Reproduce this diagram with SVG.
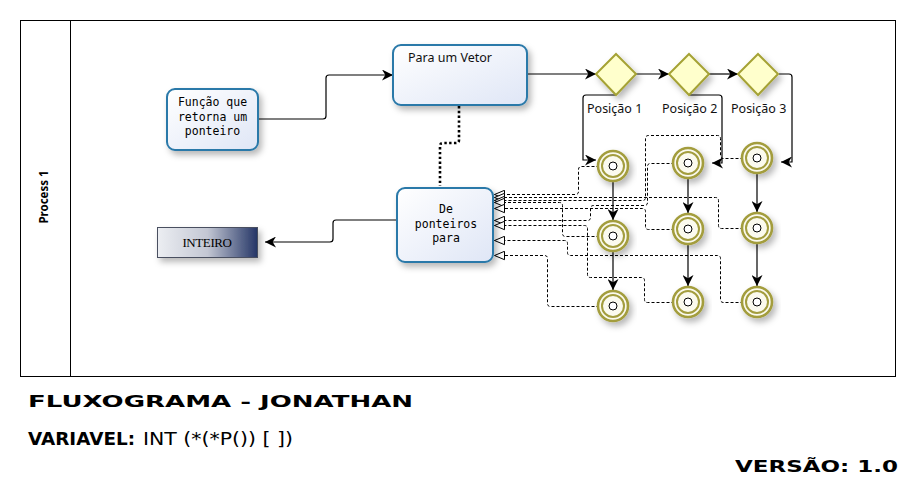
<svg xmlns="http://www.w3.org/2000/svg" width="915" height="482" viewBox="0 0 915 482">
<defs>
<linearGradient id="gNode" x1="0" y1="0" x2="1" y2="1">
<stop offset="0" stop-color="#ffffff"/>
<stop offset="1" stop-color="#dfe6f6"/>
</linearGradient>
<linearGradient id="gInt" x1="0" y1="0" x2="1" y2="0">
<stop offset="0" stop-color="#eceef2"/>
<stop offset="0.5" stop-color="#c3c7d3"/>
<stop offset="1" stop-color="#243566"/>
</linearGradient>
<filter id="sh" x="-20%" y="-20%" width="150%" height="160%">
<feDropShadow dx="3" dy="4" stdDeviation="3" flood-color="#000" flood-opacity="0.28"/>
</filter>
<marker id="arr" viewBox="0 0 10 10" refX="10" refY="5" markerWidth="11" markerHeight="11" markerUnits="userSpaceOnUse" orient="auto">
<path d="M0,0 L10,5 L0,10 L3,5 z" fill="#000"/>
</marker>
<marker id="open" viewBox="0 0 12 10" refX="11" refY="5" markerWidth="12" markerHeight="10" markerUnits="userSpaceOnUse" orient="auto">
<path d="M1,0.8 L11,5 L1,9.2 z" fill="#fff" stroke="#000" stroke-width="1"/>
</marker>
</defs>
<style>
.node{fill:url(#gNode);stroke:#2a79a9;stroke-width:2;filter:url(#sh)}
.mono{font-family:"DejaVu Sans Mono","Liberation Mono",monospace;font-size:11.5px;fill:#000;text-anchor:middle}
.sans{font-family:"Noto Sans","DejaVu Sans",sans-serif;font-size:12.5px;fill:#111}
.dia{fill:#ffffcc;stroke:#a5a234;stroke-width:2;filter:url(#sh)}
.ring{fill:#fbfaee;stroke:#a39d3e;stroke-width:2.6;filter:url(#sh)}
.ring2{fill:none;stroke:#a39d3e;stroke-width:2}
.dot{fill:#fff;stroke:#000;stroke-width:1}
.solid{fill:none;stroke:#000;stroke-width:1.2}
.arrow{marker-end:url(#arr)}
.dash{fill:none;stroke:#000;stroke-width:1;stroke-dasharray:3,2;marker-end:url(#open)}
.dotted{fill:none;stroke:#000;stroke-width:2.6;stroke-dasharray:2.4,2.4}
</style>
<rect width="915" height="482" fill="#fff"/>

<g id="pool">
<rect x="20.5" y="20.5" width="875" height="356" fill="none" stroke="#000" stroke-width="1"/>
<line x1="70.5" y1="20.5" x2="70.5" y2="376.5" stroke="#000" stroke-width="1"/>
<text x="45" y="197" transform="rotate(-90 45 197)" text-anchor="middle" dominant-baseline="middle" font-family="Noto Sans, DejaVu Sans, sans-serif" font-size="11.5" font-weight="bold">Process 1</text>
</g>

<g id="connectors">
<path class="solid arrow" d="M258,119 H323 Q326,119 326,116 V78 Q326,75 329,75 H393"/>
<path class="solid arrow" d="M527,74 H596"/>
<path class="solid arrow" d="M636,74 H669"/>
<path class="solid arrow" d="M709,74 H738"/>
<path class="solid arrow" d="M779,74 H789 Q792,74 792,77 V162 H781"/>
<path class="solid arrow" d="M616,95 H586 Q583,95 583,98 V160 H596"/>
<path class="solid arrow" d="M689,95 H719 Q722,95 722,98 V163 H712"/>
<path class="solid arrow" d="M613,182 V220"/>
<path class="solid arrow" d="M613,252 V290"/>
<path class="solid arrow" d="M688,179 V213"/>
<path class="solid arrow" d="M688,245 V286"/>
<path class="solid arrow" d="M757,174 V212"/>
<path class="solid arrow" d="M757,244 V286"/>
<path class="dotted" d="M459,106 V140 Q459,143 456,143 H443 Q440,143 440,146 V186"/>
<path class="solid arrow" d="M397,220 H336 Q333,220 333,223 V239 Q333,242 330,242 H265"/>
<g transform="translate(0.5,0.5)">
<path class="dash" d="M609,166 H581 Q578,166 578,169 V191 Q578,194 575,194 H494"/>
<path class="dash" d="M753,228 H721 Q718,228 718,225 V200 Q718,197 715,197 H494"/>
<path class="dash" d="M753,158 H723 Q720,158 720,155 V138 Q720,135 717,135 H648 Q645,135 645,138 V197 Q645,200 642,200 H494"/>
<path class="dash" d="M609,236 H565 Q562,236 562,233 V205 Q562,202 559,202 H494"/>
<path class="dash" d="M684,229 H648 Q645,229 645,226 V211 Q645,208 642,208 H494"/>
<path class="dash" d="M684,163 H650 Q647,163 647,166 V202 Q647,205 644,205 H593 Q590,205 590,208 V217 Q590,220 587,220 H494"/>
<path class="dash" d="M684,302 H647 Q644,302 644,299 V280 Q644,277 641,277 H590 Q587,277 587,274 V228 Q587,225 584,225 H494"/>
<path class="dash" d="M753,302 H723 Q720,302 720,299 V258 Q720,255 717,255 H570 Q567,255 567,252 V243 Q567,240 564,240 H494"/>
<path class="dash" d="M609,306 H550 Q547,306 547,303 V258 Q547,255 544,255 H494"/>
</g>
</g>

<g id="funcao">
<rect class="node" x="167" y="89" width="91" height="61" rx="8"/>
<text class="mono" x="212.5" y="106">Função que</text>
<text class="mono" x="212.5" y="120.5">retorna um</text>
<text class="mono" x="212.5" y="135">ponteiro</text>
</g>

<g id="vetor">
<rect class="node" x="393" y="45" width="134" height="60" rx="8"/>
<text class="sans" x="408" y="62">Para um Vetor</text>
</g>

<g id="deponteiros">
<rect class="node" x="397" y="188" width="96" height="74" rx="8"/>
<text class="mono" x="446" y="213">De</text>
<text class="mono" x="446" y="227.5">ponteiros</text>
<text class="mono" x="446" y="242">para</text>
</g>

<g id="inteiro">
<rect x="157.5" y="227.5" width="100" height="30" fill="url(#gInt)" stroke="#4a4f60" stroke-width="1" filter="url(#sh)"/>
<text x="207" y="246.5" text-anchor="middle" font-family="Liberation Serif, serif" font-size="13" letter-spacing="-0.4">INTEIRO</text>
</g>

<g id="pos1">
<path class="dia" d="M616,54 L636,74 L616,95 L596,74 z"/>
<text class="sans" x="587" y="113">Posição 1</text>
</g>
<g id="pos2">
<path class="dia" d="M689,54 L709,74 L689,95 L669,74 z"/>
<text class="sans" x="662" y="113">Posição 2</text>
</g>
<g id="pos3">
<path class="dia" d="M758,54 L778,74 L758,95 L738,74 z"/>
<text class="sans" x="731" y="113">Posição 3</text>
</g>

<g id="c1r1" transform="translate(613,166)"><circle class="ring" r="15"/><circle class="ring2" r="11"/><circle class="dot" r="4"/></g>
<g id="c1r2" transform="translate(613,236)"><circle class="ring" r="15"/><circle class="ring2" r="11"/><circle class="dot" r="4"/></g>
<g id="c1r3" transform="translate(613,306)"><circle class="ring" r="15"/><circle class="ring2" r="11"/><circle class="dot" r="4"/></g>
<g id="c2r1" transform="translate(688,163)"><circle class="ring" r="15"/><circle class="ring2" r="11"/><circle class="dot" r="4"/></g>
<g id="c2r2" transform="translate(688,229)"><circle class="ring" r="15"/><circle class="ring2" r="11"/><circle class="dot" r="4"/></g>
<g id="c2r3" transform="translate(688,302)"><circle class="ring" r="15"/><circle class="ring2" r="11"/><circle class="dot" r="4"/></g>
<g id="c3r1" transform="translate(757,158)"><circle class="ring" r="15"/><circle class="ring2" r="11"/><circle class="dot" r="4"/></g>
<g id="c3r2" transform="translate(757,228)"><circle class="ring" r="15"/><circle class="ring2" r="11"/><circle class="dot" r="4"/></g>
<g id="c3r3" transform="translate(757,302)"><circle class="ring" r="15"/><circle class="ring2" r="11"/><circle class="dot" r="4"/></g>

<g id="titles">
<text x="28" y="407" font-family="DejaVu Sans, sans-serif" font-weight="bold" font-size="15.5" textLength="385" lengthAdjust="spacingAndGlyphs">FLUXOGRAMA - JONATHAN</text>
<text y="445" font-family="DejaVu Sans, sans-serif" font-size="18"><tspan x="28" font-weight="bold" textLength="107" lengthAdjust="spacingAndGlyphs">VARIAVEL:</tspan><tspan x="143" textLength="150" lengthAdjust="spacingAndGlyphs">INT (*(*P()) [ ])</tspan></text>
<text x="735" y="472" font-family="DejaVu Sans, sans-serif" font-weight="bold" font-size="15" textLength="163" lengthAdjust="spacingAndGlyphs">VERSÃO: 1.0</text>
</g>
</svg>
